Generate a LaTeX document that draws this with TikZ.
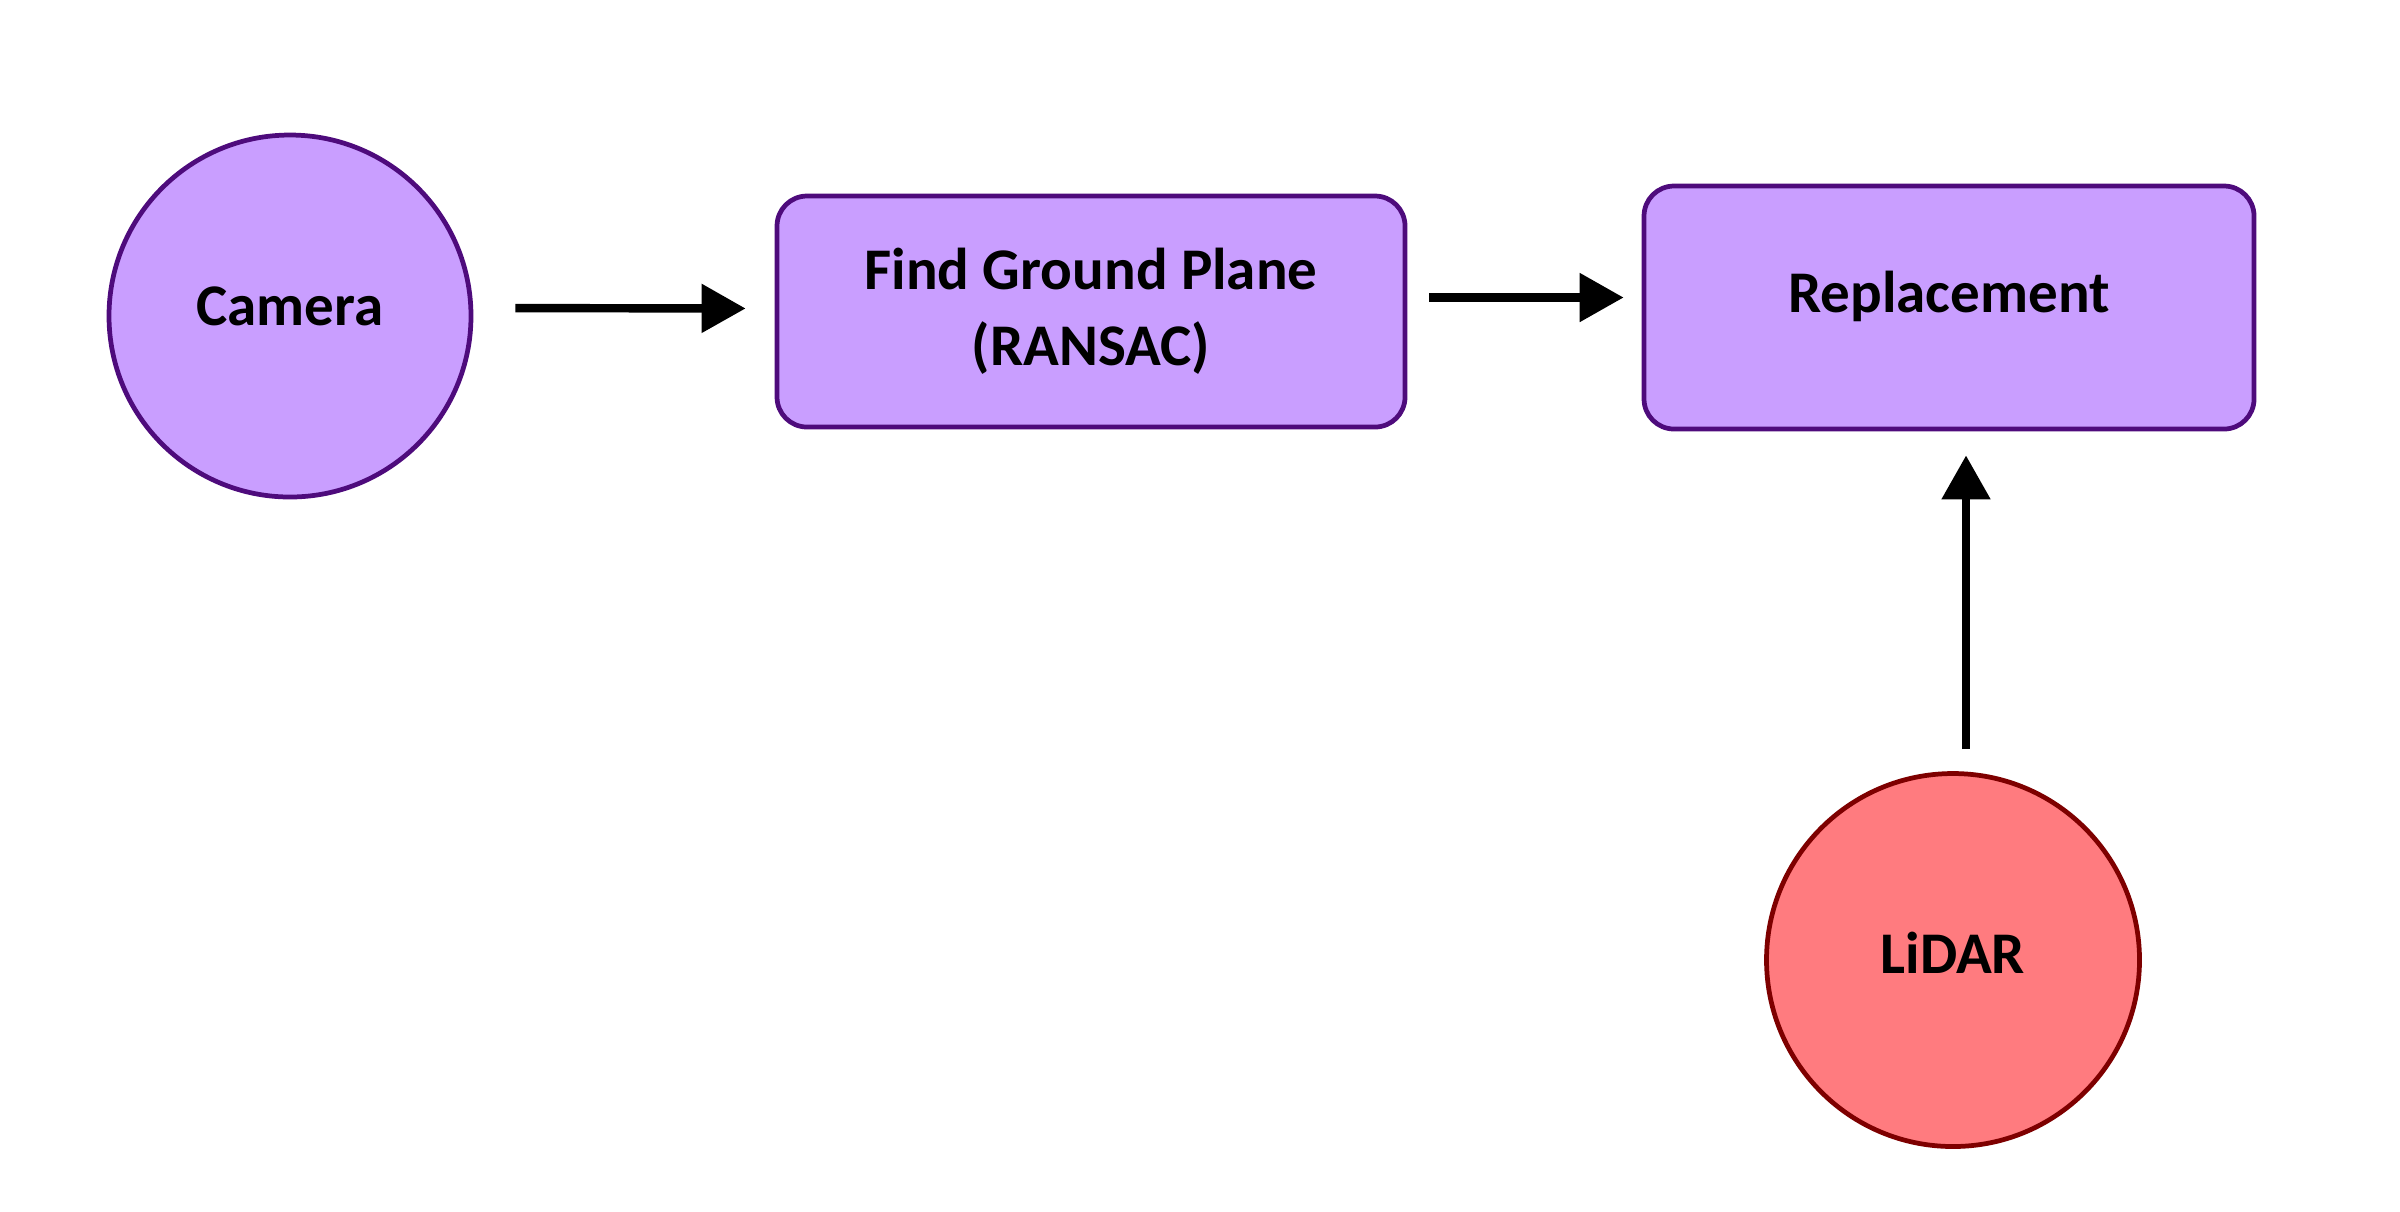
\documentclass[tikz,border=0pt]{standalone}
\usepackage{fontspec}
\setmainfont{Carlito}
\usetikzlibrary{arrows.meta,positioning}
\definecolor{lilac}{HTML}{C99EFF}
\definecolor{plum}{HTML}{4E0B7C}
\definecolor{salmon}{HTML}{FF7B7F}
\definecolor{maroon}{HTML}{7E0000}
\begin{document}
\begin{tikzpicture}[
	txt/.style={font=\fontsize{16.8}{21.6}\selectfont\bfseries, align=center},
	sensor/.style={txt, circle, draw=plum, fill=lilac, line width=1.35pt, minimum size=3.62cm, text depth=0.2cm},
	stage/.style={txt, rectangle, rounded corners=0.3cm, draw=plum, fill=lilac, line width=1.35pt},
	flow/.style={line width=2.4pt, -{Triangle[length=0.44cm,width=0.47cm]}}
	]
	\useasboundingbox (0,0) rectangle (24,-12.11);
	\node[sensor] (camera) at (2.90,-3.16) {Camera};
	\node[stage, minimum width=6.28cm, minimum height=2.31cm] (ground) at (10.91,-3.115) {Find Ground Plane\\(RANSAC)};
	\node[stage, minimum width=6.10cm, minimum height=2.43cm, text depth=0.32cm] (replace) at (19.49,-3.075) {Replacement};
	\node[sensor, draw=maroon, fill=salmon, minimum size=3.73cm, text depth=0.15cm] (lidar) at (19.53,-9.60) {LiDAR};

	\draw[flow, shorten <=0.42cm, shorten >=0.29cm] ([yshift=0.08cm]camera.east) -- ([yshift=0.03cm]ground.west);
	\draw[flow, shorten <=0.22cm, shorten >=0.18cm] ([yshift=0.14cm]ground.east) -- ([yshift=0.14cm]ground.east -| replace.west);
	\draw[flow, shorten <=0.22cm, shorten >=0.24cm] ([xshift=0.13cm]lidar.north) -- ([xshift=0.13cm]lidar.north |- replace.south);
\end{tikzpicture}
\end{document}
